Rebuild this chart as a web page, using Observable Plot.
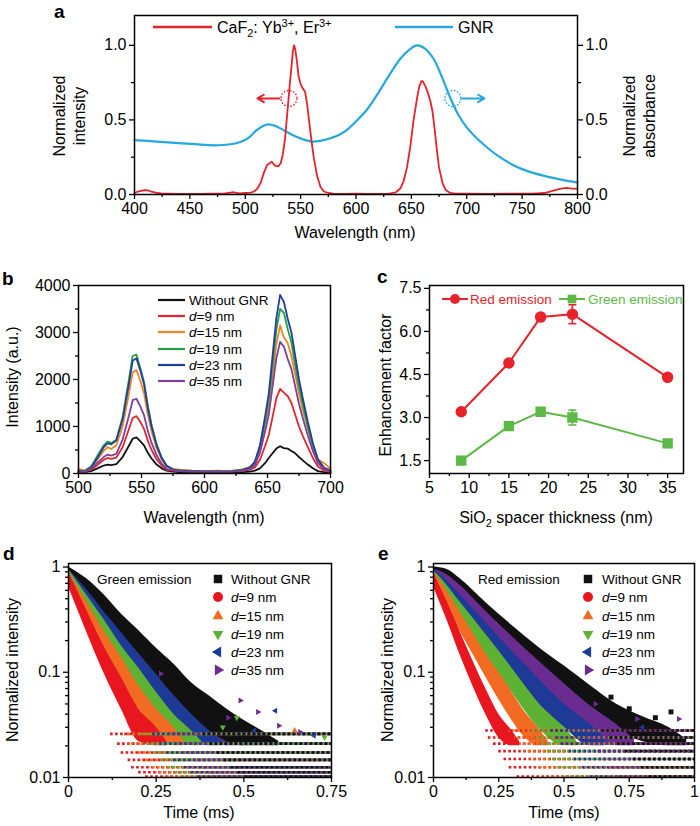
<!DOCTYPE html>
<html><head><meta charset="utf-8">
<script src="https://cdn.jsdelivr.net/npm/d3@7"></script>
<script src="https://cdn.jsdelivr.net/npm/@observablehq/plot@0.6"></script>
<style>
html,body{margin:0;padding:0;background:#fff;}
#fig{position:relative;width:700px;height:826px;overflow:hidden;font-family:Arial,"Liberation Sans",Helvetica,sans-serif;}
#fig svg{position:absolute;}
</style></head><body><div id="fig"></div>
<script>
// ---------------- DATA ----------------
// Panel a: upconversion emission (CaF2: Yb3+, Er3+) [wavelength nm, normalized intensity]
const ucSpectrum = [[400,0.01],[403,0.02],[406,0.025],[409,0.03],[412,0.028],[415,0.02],[418,0.015],[421,0.01],[425,0.006],[430,0.005],[440,0.004],[450,0.004],[460,0.004],[470,0.005],[480,0.006],[485,0.01],[488,0.015],[491,0.012],[495,0.008],[500,0.01],[505,0.012],[508,0.02],[511,0.04],[514,0.08],[517,0.15],[520,0.2],[522,0.21],[524,0.22],[526,0.2],[528,0.19],[530,0.19],[532,0.21],[534,0.27],[536,0.38],[538,0.55],[540,0.72],[542,0.88],[543,0.96],[544,1.0],[545,0.98],[546,0.93],[547,0.87],[548,0.8],[550,0.74],[552,0.71],[554,0.69],[556,0.6],[558,0.47],[560,0.35],[562,0.24],[565,0.12],[568,0.05],[571,0.02],[575,0.01],[580,0.006],[590,0.004],[600,0.005],[610,0.004],[620,0.004],[630,0.006],[636,0.015],[640,0.04],[643,0.09],[646,0.18],[649,0.32],[652,0.5],[655,0.64],[657,0.72],[659,0.76],[660,0.76],[661,0.75],[663,0.72],[665,0.68],[667,0.63],[669,0.56],[671,0.44],[673,0.3],[675,0.18],[678,0.08],[681,0.03],[685,0.01],[690,0.006],[700,0.005],[720,0.004],[740,0.005],[760,0.006],[770,0.01],[775,0.02],[780,0.03],[785,0.04],[790,0.045],[795,0.04],[800,0.04]];
// Panel a: GNR absorbance [wavelength nm, normalized absorbance]
const gnrSpectrum = [[400,0.365],[420,0.355],[440,0.345],[460,0.335],[475,0.33],[485,0.335],[495,0.35],[503,0.38],[510,0.43],[516,0.46],[521,0.47],[527,0.46],[535,0.43],[545,0.39],[552,0.37],[560,0.355],[568,0.36],[576,0.375],[585,0.4],[593,0.44],[600,0.49],[610,0.57],[620,0.68],[630,0.8],[640,0.91],[648,0.97],[655,1.0],[662,0.98],[670,0.91],[678,0.78],[685,0.65],[692,0.54],[700,0.45],[710,0.37],[720,0.305],[730,0.25],[740,0.205],[750,0.17],[760,0.145],[770,0.125],[780,0.108],[790,0.093],[800,0.08]];
// Panel a annotation circles/arrows: circle centre (x,y) and arrow from -> to
const annotRed = [{x: 539.5, y: 0.644, from: 531, to: 511}];
const annotBlue = [{x: 687.5, y: 0.644, from: 696, to: 716}];
const wlTicksA = [400,450,500,550,600,650,700,750,800];

// Panel b: emission spectra
const seriesNames = ["Without GNR","d=9 nm","d=15 nm","d=19 nm","d=23 nm","d=35 nm"];
const wlB = [500,505,510,515,520,523,526,530,535,540,543,546,549,552,555,558,562,566,570,575,580,590,600,610,620,630,636,640,644,648,651,654,657,660,663,666,669,672,675,678,682,686,690,695,700];
const intWithout = [20,30,50,110,170,190,180,200,350,590,740,770,690,600,440,320,190,110,60,40,30,30,25,25,25,30,40,60,110,220,330,430,530,580,540,530,480,430,350,280,190,110,50,30,20];
const intD9 = [30,40,80,180,290,330,310,340,560,940,1180,1220,1100,950,700,500,300,170,80,60,50,40,40,40,40,50,80,130,290,580,820,1200,1600,1800,1720,1650,1500,1250,1000,800,560,330,150,60,30];
const intD15 = [100,60,150,300,480,560,520,600,1000,1700,2150,2200,1980,1710,1260,900,540,300,150,90,80,60,50,60,50,90,140,220,500,1000,1420,2080,2750,3150,2900,2780,2500,2100,1700,1350,950,560,300,220,100];
const intD19 = [50,60,150,380,600,680,650,720,1200,2000,2500,2530,2250,1950,1450,1030,620,340,170,90,70,55,50,45,50,80,130,250,560,1100,1600,2300,3050,3500,3420,3080,2780,2300,1850,1480,1000,600,280,110,50];
const intD23 = [60,40,120,330,560,640,620,700,1150,1900,2400,2450,2200,1900,1400,1000,600,330,160,90,60,50,40,45,40,70,120,250,600,1200,1700,2500,3300,3800,3650,3300,3000,2500,2000,1600,1100,650,300,120,60];
const intD35 = [40,40,100,230,350,400,380,420,720,1230,1560,1590,1430,1240,910,650,390,210,100,70,50,40,40,40,40,60,90,180,440,880,1250,1850,2450,2800,2700,2440,2220,1850,1480,1180,810,480,220,90,40];

// Panel c: enhancement factor vs SiO2 thickness
const thickness = [9,15,19,23,35];
const redEF = [3.2,4.9,6.5,6.6,4.4];
const redErr = [0.09,0.07,0.12,0.33,0.05];
const greenEF = [1.5,2.7,3.2,3.0,2.1];
const greenErr = [0.05,0.05,0.1,0.26,0.05];

// Panel d (green emission decay): per series [time ms, upper, lower] of the scatter band
const gDecayWithout = [[0,1.0,0.85],[0.05,0.78,0.55],[0.1,0.55,0.36],[0.15,0.36,0.22],[0.2,0.25,0.15],[0.25,0.17,0.095],[0.3,0.12,0.06],[0.35,0.08,0.04],[0.4,0.06,0.028],[0.45,0.045,0.022],[0.5,0.035,0.02],[0.55,0.028,0.02],[0.6,0.022,0.02]];
const gDecayD9 = [[0,0.9,0.65],[0.05,0.4,0.25],[0.1,0.18,0.1],[0.15,0.09,0.045],[0.2,0.045,0.022],[0.25,0.03,0.02],[0.28,0.022,0.02]];
const gDecayD15 = [[0,0.9,0.7],[0.05,0.48,0.33],[0.1,0.25,0.16],[0.15,0.14,0.08],[0.2,0.075,0.045],[0.25,0.045,0.028],[0.3,0.03,0.02],[0.33,0.022,0.02]];
const gDecayD19 = [[0,0.95,0.75],[0.05,0.55,0.4],[0.1,0.32,0.2],[0.15,0.18,0.11],[0.2,0.11,0.062],[0.25,0.065,0.038],[0.3,0.04,0.025],[0.35,0.028,0.02],[0.38,0.022,0.02]];
const gDecayD23 = [[0,0.95,0.8],[0.05,0.62,0.45],[0.1,0.38,0.26],[0.15,0.24,0.15],[0.2,0.15,0.085],[0.25,0.095,0.05],[0.3,0.06,0.032],[0.35,0.04,0.022],[0.4,0.028,0.02],[0.44,0.022,0.02]];
const gDecayD35 = [[0,0.95,0.8],[0.05,0.7,0.5],[0.1,0.45,0.3],[0.15,0.3,0.18],[0.2,0.2,0.11],[0.25,0.13,0.07],[0.3,0.09,0.045],[0.35,0.06,0.03],[0.4,0.045,0.022],[0.45,0.033,0.02],[0.5,0.024,0.02]];
// noise floor rows (count quantisation levels) and the time each series reaches them
const gFloorLevels = [0.0102,0.0112,0.0125,0.0147,0.0173,0.021,0.026];
const gFloorStarts = [
  [0.5,0.48,0.46,0.44,0.42,0.4,0.38],
  [0.22,0.2,0.18,0.17,0.15,0.14,0.12],
  [0.27,0.25,0.23,0.21,0.19,0.17,0.16],
  [0.32,0.3,0.28,0.26,0.24,0.22,0.2],
  [0.37,0.35,0.33,0.3,0.28,0.26,0.24],
  [0.42,0.4,0.38,0.36,0.33,0.31,0.29]];
// scattered outlier points [time, intensity, series index]
const gOutliers = [[0.263,0.097,5],[0.49,0.054,5],[0.54,0.042,5],[0.455,0.037,5],[0.66,0.027,5],[0.6,0.031,5],[0.59,0.043,4],[0.53,0.028,4],[0.7,0.025,4],[0.48,0.037,3],[0.73,0.024,3],[0.44,0.03,3],[0.645,0.028,2],[0.35,0.062,0]];

// Panel e (red emission decay)
const rDecayWithout = [[0,1.0,0.85],[0.05,0.95,0.75],[0.1,0.78,0.54],[0.2,0.46,0.29],[0.3,0.28,0.17],[0.4,0.175,0.1],[0.5,0.115,0.062],[0.6,0.075,0.04],[0.7,0.05,0.028],[0.8,0.038,0.022],[0.9,0.03,0.02],[0.97,0.023,0.02]];
const rDecayD9 = [[0,0.88,0.65],[0.05,0.48,0.32],[0.1,0.25,0.15],[0.15,0.13,0.075],[0.2,0.07,0.04],[0.25,0.04,0.024],[0.3,0.028,0.02],[0.33,0.022,0.02]];
const rDecayD15 = [[0,0.9,0.7],[0.05,0.6,0.42],[0.1,0.38,0.25],[0.15,0.24,0.15],[0.2,0.15,0.09],[0.25,0.1,0.055],[0.3,0.065,0.035],[0.35,0.042,0.024],[0.4,0.03,0.02],[0.44,0.022,0.02]];
const rDecayD19 = [[0,0.92,0.72],[0.05,0.68,0.5],[0.1,0.47,0.33],[0.15,0.33,0.22],[0.2,0.23,0.145],[0.25,0.16,0.095],[0.3,0.11,0.065],[0.35,0.075,0.043],[0.4,0.052,0.03],[0.5,0.03,0.02],[0.55,0.022,0.02]];
const rDecayD23 = [[0,0.95,0.75],[0.05,0.75,0.55],[0.1,0.55,0.38],[0.2,0.3,0.17],[0.3,0.16,0.085],[0.4,0.088,0.048],[0.5,0.05,0.03],[0.6,0.032,0.02],[0.66,0.023,0.02]];
const rDecayD35 = [[0,0.95,0.8],[0.05,0.85,0.65],[0.1,0.68,0.45],[0.2,0.38,0.22],[0.3,0.22,0.12],[0.4,0.13,0.07],[0.5,0.078,0.042],[0.6,0.048,0.027],[0.7,0.032,0.02],[0.77,0.023,0.02]];
const rFloorLevels = [0.0102,0.0125,0.015,0.0178,0.021,0.024,0.028];
const rFloorStarts = [
  [0.82,0.79,0.76,0.73,0.7,0.67,0.64],
  [0.32,0.29,0.27,0.25,0.23,0.21,0.2],
  [0.42,0.39,0.37,0.35,0.33,0.31,0.29],
  [0.5,0.47,0.45,0.43,0.41,0.39,0.37],
  [0.6,0.57,0.54,0.52,0.49,0.47,0.45],
  [0.7,0.67,0.64,0.62,0.59,0.57,0.55]];
const rOutliers = [[0.68,0.058,0],[0.91,0.042,0],[0.85,0.037,0],[0.75,0.045,0],[0.78,0.036,5],[0.94,0.036,5],[0.62,0.05,5],[0.8,0.03,4]];

// ---------------- STYLE ----------------
const FONT = "Arial, 'Liberation Sans', Helvetica, sans-serif";
const RED_A = "#e8222b", BLUE_A = "#25a7e0";
const BCOL = ["#111111","#e3262e","#f58220","#239f4a","#213f99","#7d3f98"];
const DCOL = ["#111111","#e8161e","#f26b22","#5db233","#1d3b96","#6b2c91"];
const C_RED = "#e8222b", C_GREEN = "#5db946";

function triSym(dir){
  return {draw(ctx, size){
    const r = Math.sqrt(size/Math.PI)*1.25, a = 0.866*r, b = 0.5*r;
    if (dir==="up"){ctx.moveTo(0,-r);ctx.lineTo(a,b);ctx.lineTo(-a,b);}
    else if (dir==="down"){ctx.moveTo(0,r);ctx.lineTo(a,-b);ctx.lineTo(-a,-b);}
    else if (dir==="left"){ctx.moveTo(-r,0);ctx.lineTo(b,-a);ctx.lineTo(b,a);}
    else {ctx.moveTo(r,0);ctx.lineTo(-b,-a);ctx.lineTo(-b,a);}
    ctx.closePath();
  }};
}
const hline = {draw(ctx, size){ const w = Math.sqrt(size/Math.PI); ctx.moveTo(-w,0); ctx.lineTo(w,0);} };
const SYMS = [d3.symbolSquare, d3.symbolCircle, triSym("up"), triSym("down"), triSym("left"), triSym("right")];

const fig = d3.select("#fig");
function place(svg, left, top){ svg.style.position="absolute"; svg.style.left=left+"px"; svg.style.top=top+"px"; svg.style.background="transparent"; fig.node().appendChild(svg); }
const styleObj = {fontFamily: FONT, fontSize: "16px", color: "#000", background: "transparent", overflow: "visible"};
const fmtS = d => String(d);
function axes({xMajor, xMinor, xFmt = fmtS, yMajor, yMinor, yFmt = fmtS, right = false}){
  const c = {label: null, strokeWidth: 1.3, fontSize: 16, tickPadding: 3};
  const m = [
    Plot.axisX({...c, ticks: xMajor, tickSize: 5, tickFormat: xFmt}),
    Plot.axisX({...c, ticks: xMinor, tickSize: 3, tickFormat: () => ""}),
    Plot.axisY({...c, anchor: "left", ticks: yMajor, tickSize: 5, tickFormat: yFmt}),
    Plot.axisY({...c, anchor: "left", ticks: yMinor, tickSize: 3, tickFormat: () => ""})
  ];
  if (right){
    m.push(Plot.axisY({...c, anchor: "right", ticks: yMajor, tickSize: 5, tickFormat: yFmt}));
    m.push(Plot.axisY({...c, anchor: "right", ticks: yMinor, tickSize: 3, tickFormat: () => ""}));
  }
  m.push(Plot.frame({stroke: "#000", strokeWidth: 1.5}));
  return m;
}

// ---------------- PANEL A ----------------
const plotA = Plot.plot({
  width: 700, height: 250, marginLeft: 134, marginRight: 123, marginTop: 15, marginBottom: 56,
  style: styleObj,
  x: {domain: [400, 800]}, y: {domain: [0, 1.2]},
  marks: [
    Plot.line(gnrSpectrum, {x: d => d[0], y: d => d[1], stroke: BLUE_A, strokeWidth: 2.2, curve: "catmull-rom"}),
    Plot.line(ucSpectrum, {x: d => d[0], y: d => d[1], stroke: RED_A, strokeWidth: 1.8}),
    Plot.dot(annotRed, {x: "x", y: "y", r: 8, stroke: RED_A, strokeWidth: 1.4, strokeDasharray: "1.6,1.6"}),
    Plot.arrow(annotRed, {x1: "from", x2: "to", y1: "y", y2: "y", stroke: RED_A, strokeWidth: 2, headLength: 7}),
    Plot.dot(annotBlue, {x: "x", y: "y", r: 8, stroke: BLUE_A, strokeWidth: 1.4, strokeDasharray: "1.6,1.6"}),
    Plot.arrow(annotBlue, {x1: "from", x2: "to", y1: "y", y2: "y", stroke: BLUE_A, strokeWidth: 2, headLength: 7}),
    ...axes({xMajor: wlTicksA, xMinor: [425,475,525,575,625,675,725,775], yMajor: [0,0.5,1], yMinor: [0.25,0.75], yFmt: d3.format(".1f"), right: true})
  ]
});
place(plotA, 0, 0);

// ---------------- PANEL B ----------------
const bSeries = [intWithout, intD9, intD15, intD19, intD23, intD35];
const plotB = Plot.plot({
  width: 350, height: 260, marginLeft: 78, marginRight: 20, marginTop: 15, marginBottom: 57,
  style: styleObj,
  x: {domain: [500, 700]}, y: {domain: [0, 4000]},
  marks: [
    ...bSeries.map((vals, k) => Plot.line(wlB.map((w, i) => ({w, v: vals[i]})), {x: "w", y: "v", stroke: BCOL[k], strokeWidth: 1.8})),
    ...axes({xMajor: [500,550,600,650,700], xMinor: [525,575,625,675], yMajor: [0,1000,2000,3000,4000], yMinor: [500,1500,2500,3500]})
  ]
});
place(plotB, 0, 270);

// ---------------- PANEL C ----------------
const cRed = thickness.map((x, i) => ({x, y: redEF[i], e: redErr[i]}));
const cGreen = thickness.map((x, i) => ({x, y: greenEF[i], e: greenErr[i]}));
function efMarks(data, color, symbol){
  return [
    Plot.line(data, {x: "x", y: "y", stroke: color, strokeWidth: 2}),
    Plot.ruleX(data, {x: "x", y1: d => d.y - d.e, y2: d => d.y + d.e, stroke: color, strokeWidth: 1.6}),
    Plot.dot(data, {x: "x", y: d => d.y - d.e, symbol: hline, r: 4, stroke: color, strokeWidth: 1.6}),
    Plot.dot(data, {x: "x", y: d => d.y + d.e, symbol: hline, r: 4, stroke: color, strokeWidth: 1.6}),
    Plot.dot(data, {x: "x", y: "y", symbol, r: 5, fill: color, stroke: color})
  ];
}
const plotC = Plot.plot({
  width: 350, height: 260, marginLeft: 79, marginRight: 17, marginTop: 15, marginBottom: 57,
  style: styleObj,
  x: {domain: [5, 37]}, y: {domain: [1.05, 7.6]},
  marks: [
    ...efMarks(cRed, C_RED, "circle"),
    ...efMarks(cGreen, C_GREEN, "square"),
    ...axes({xMajor: [5,10,15,20,25,30,35], xMinor: [7.5,12.5,17.5,22.5,27.5,32.5], yMajor: [1.5,3,4.5,6,7.5], yMinor: [2.25,3.75,5.25,6.75], yFmt: d3.format(".1f")})
  ]
});
place(plotC, 350, 270);

// ---------------- PANELS D, E ----------------
function decayPlot(cfg){
  const marks = [];
  for (const k of cfg.bandOrder) marks.push(Plot.areaY(cfg.bands[k], {x: d => d[0], y1: d => d[2], y2: d => d[1], fill: DCOL[k], curve: "monotone-x"}));
  const stripeOrder = [1,2,3,4,5,0];
  stripeOrder.forEach((k, j) => {
    const rows = cfg.levels.map((lv, i) => ({lv, start: cfg.starts[k][i]}));
    marks.push(Plot.ruleY(rows, {y: "lv", x1: "start", x2: () => cfg.xmax, stroke: DCOL[k], strokeWidth: 2.6, strokeDasharray: "2.6,2.4", strokeDashoffset: j * 1.7}));
  });
  for (const k of cfg.bandOrder){
    marks.push(Plot.dot(cfg.outliers.filter(o => o[2] === k), {x: d => d[0], y: d => d[1], symbol: SYMS[k], r: 2.8, fill: DCOL[k]}));
  }
  const logMinor = [0.02,0.03,0.04,0.05,0.06,0.07,0.08,0.09,0.2,0.3,0.4,0.5,0.6,0.7,0.8,0.9];
  marks.push(...axes({xMajor: cfg.xMajor, xMinor: cfg.xMinor, yMajor: [0.01,0.1,1], yMinor: logMinor}));
  return Plot.plot({
    width: 350, height: 286, marginLeft: cfg.ml, marginRight: cfg.mr, marginTop: 23, marginBottom: 49,
    style: styleObj,
    x: {domain: [0, cfg.xmax]}, y: {type: "log", domain: [0.01, 1.08]},
    marks
  });
}
const plotD = decayPlot({ml: 68, mr: 19, xmax: 0.75, xMajor: [0,0.25,0.5,0.75], xMinor: [0.125,0.375,0.625], bandOrder: [5,0,4,3,2,1],
  bands: [gDecayWithout, gDecayD9, gDecayD15, gDecayD19, gDecayD23, gDecayD35], levels: gFloorLevels, starts: gFloorStarts, outliers: gOutliers});
place(plotD, 0, 540);
const plotE = decayPlot({ml: 83, mr: 6, xmax: 1, xMajor: [0,0.25,0.5,0.75,1], xMinor: [0.125,0.375,0.625,0.875], bandOrder: [0,5,4,3,2,1],
  bands: [rDecayWithout, rDecayD9, rDecayD15, rDecayD19, rDecayD23, rDecayD35], levels: rFloorLevels, starts: rFloorStarts, outliers: rOutliers});
place(plotE, 350, 540);

// ---------------- OVERLAY: panel letters, titles, legends ----------------
const ov = fig.append("svg").attr("width", 700).attr("height", 826)
  .style("left", "0px").style("top", "0px").style("pointer-events", "none")
  .attr("font-family", FONT);
function txt(x, y, s, o = {}){
  return ov.append("text").attr("x", x).attr("y", y).attr("font-size", o.size || 16)
    .attr("text-anchor", o.anchor || "start").attr("dominant-baseline", o.base || "auto")
    .attr("font-weight", o.bold ? "bold" : null).attr("fill", o.fill || "#000").text(s);
}
function vtxt(x, y, s, size = 16){
  return ov.append("text").attr("transform", `translate(${x},${y}) rotate(-90)`).attr("font-size", size)
    .attr("text-anchor", "middle").attr("dominant-baseline", "central").attr("fill", "#000").text(s);
}
// panel letters
[["a",54,18],["b",2,285],["c",377,283],["d",3,560],["e",378,560]].forEach(([s,x,y]) => txt(x, y, s, {bold: true, size: 19}));

// panel a titles
vtxt(59, 116, "Normalized"); vtxt(79, 116, "intensity");
vtxt(629, 116, "Normalized"); vtxt(649, 116, "absorbance");
txt(355, 238, "Wavelength (nm)", {anchor: "middle"});
// panel a legend
ov.append("line").attr("x1", 153).attr("x2", 212).attr("y1", 27).attr("y2", 27).attr("stroke", RED_A).attr("stroke-width", 2.6);
{
  const t = ov.append("text").attr("x", 217).attr("y", 33).attr("font-size", 16).attr("fill", "#000");
  t.append("tspan").text("CaF");
  t.append("tspan").attr("dy", 4).attr("font-size", 11).text("2");
  t.append("tspan").attr("dy", -4).text(": Yb");
  t.append("tspan").attr("dy", -6).attr("font-size", 11).text("3+");
  t.append("tspan").attr("dy", 6).text(", Er");
  t.append("tspan").attr("dy", -6).attr("font-size", 11).text("3+");
}
ov.append("line").attr("x1", 395).attr("x2", 453).attr("y1", 27).attr("y2", 27).attr("stroke", BLUE_A).attr("stroke-width", 2.6);
txt(458, 33, "GNR");

// panel b
vtxt(12, 377, "Intensity (a.u.)");
txt(204, 523, "Wavelength (nm)", {anchor: "middle"});
function dLabel(x, y, s, size){
  const t = ov.append("text").attr("x", x).attr("y", y).attr("font-size", size).attr("dominant-baseline", "central").attr("fill", "#000");
  if (s.startsWith("d=")){ t.append("tspan").attr("font-style", "italic").text("d"); t.append("tspan").text(s.slice(1)); }
  else t.text(s);
}
const bRows = [300,316,332,349,365,381];
seriesNames.forEach((s, k) => {
  ov.append("line").attr("x1", 158).attr("x2", 185).attr("y1", bRows[k]).attr("y2", bRows[k]).attr("stroke", BCOL[k]).attr("stroke-width", 2.2);
  dLabel(189, bRows[k], s, 13.5);
});

// panel c
vtxt(385, 385, "Enhancement factor");
{
  const t = ov.append("text").attr("x", 556).attr("y", 523).attr("font-size", 16).attr("text-anchor", "middle").attr("fill", "#000");
  t.append("tspan").text("SiO");
  t.append("tspan").attr("dy", 4).attr("font-size", 11).text("2");
  t.append("tspan").attr("dy", -4).text(" spacer thickness (nm)");
}
ov.append("line").attr("x1", 442).attr("x2", 468).attr("y1", 299).attr("y2", 299).attr("stroke", C_RED).attr("stroke-width", 2);
ov.append("path").attr("transform", "translate(455,299)").attr("d", d3.symbol(d3.symbolCircle, Math.PI * 25)()).attr("fill", C_RED);
txt(470, 299, "Red emission", {size: 13.5, base: "central", fill: C_RED});
ov.append("line").attr("x1", 559).attr("x2", 585).attr("y1", 299).attr("y2", 299).attr("stroke", C_GREEN).attr("stroke-width", 2);
ov.append("path").attr("transform", "translate(572,299)").attr("d", d3.symbol(d3.symbolSquare, 75)()).attr("fill", C_GREEN);
txt(588, 299, "Green emission", {size: 13.5, base: "central", fill: C_GREEN});

// panels d, e
vtxt(12, 670, "Normalized intensity");
vtxt(387, 670, "Normalized intensity");
txt(199, 818, "Time (ms)", {anchor: "middle"});
txt(564, 818, "Time (ms)", {anchor: "middle"});
txt(97, 579, "Green emission", {size: 13.5, base: "central"});
txt(478, 579, "Red emission", {size: 13.5, base: "central"});
const dRows = [579,597,616,634,652,670];
const legSizes = [72, Math.PI*25, Math.PI*25, Math.PI*25, Math.PI*25, Math.PI*25];
[[218, 231], [588, 602]].forEach(([mx, tx]) => {
  seriesNames.forEach((s, k) => {
    ov.append("path").attr("transform", `translate(${mx},${dRows[k]})`).attr("d", d3.symbol(SYMS[k], legSizes[k])()).attr("fill", DCOL[k]);
    dLabel(tx, dRows[k], s, 13.5);
  });
});
</script></body></html>
